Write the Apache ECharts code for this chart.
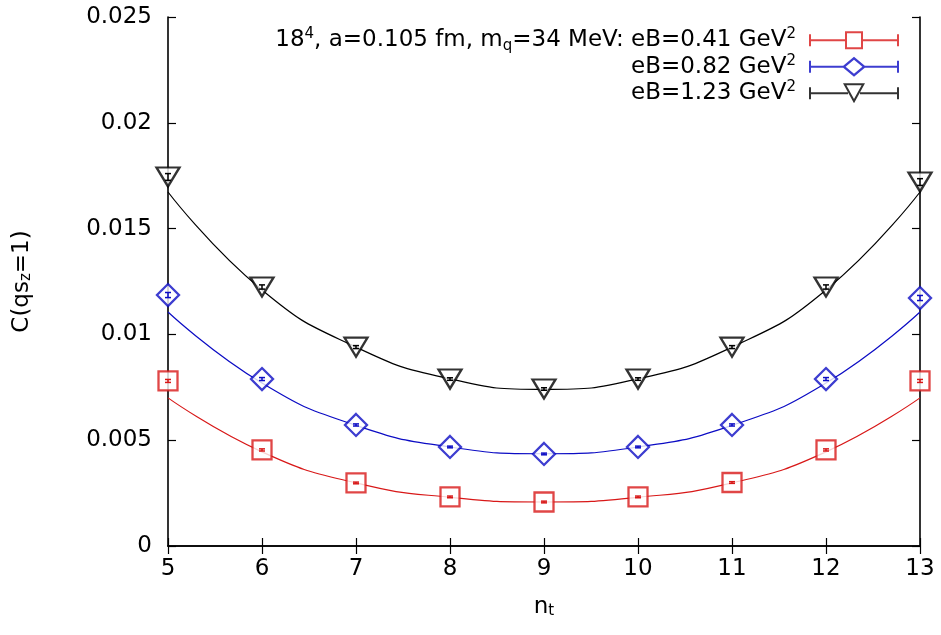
<!DOCTYPE html>
<html>
<head>
<meta charset="utf-8">
<script src="https://cdn.jsdelivr.net/npm/echarts@6/dist/echarts.min.js"></script>
<style>
  html, body { margin: 0; padding: 0; background: #fff; }
  #chart { width: 941px; height: 635px; }
</style>
</head>
<body>
<div id="chart"></div>
<script>
// n_t values and measured correlator values
const nt = [5, 6, 7, 8, 9, 10, 11, 12, 13];
const c041 = [0.0078, 0.00454, 0.00298, 0.00232, 0.00208, 0.00232, 0.00300, 0.00454, 0.0078];
const c082 = [0.01186, 0.00789, 0.00572, 0.00468, 0.00435, 0.00468, 0.00572, 0.00789, 0.01172];
const c123 = [0.01744, 0.01224, 0.0094, 0.00789, 0.00742, 0.00789, 0.0094, 0.01224, 0.0172];
// error bars
const e041 = [0.00007, 0.00005, 0.00004, 0.00004, 0.00004, 0.00004, 0.00004, 0.00005, 0.00007];
const e082 = [0.00012, 0.00007, 0.00005, 0.00004, 0.00004, 0.00004, 0.00005, 0.00007, 0.00012];
const e123 = [0.00016, 0.0001, 0.00007, 0.00006, 0.00006, 0.00006, 0.00007, 0.0001, 0.00016];
// fit curves
const fit041 = [0.0070, 0.00445, 0.00298, 0.00230, 0.00208, 0.00230, 0.00298, 0.00445, 0.0070];
const fit082 = [0.01106, 0.0077, 0.0057, 0.00468, 0.00436, 0.00468, 0.0057, 0.0077, 0.01106];
const fit123 = [0.01673, 0.0121, 0.0094, 0.0079, 0.0074, 0.0079, 0.0094, 0.0121, 0.01673];

const RED = '#d81818', BLUE = '#0c0cc4', BLACK = '#000000';
const FONT = '"DejaVu Sans", sans-serif';
const FS = 23, FS_SMALL = 15;

const names = ['eB041', 'eB082', 'eB123'];
const labels = {
  eB041: '18{sup|4}, a=0.105 fm, m{sub|q}=34 MeV: eB=0.41 GeV{sup|2}',
  eB082: 'eB=0.82 GeV{sup|2}',
  eB123: 'eB=1.23 GeV{sup|2}'
};

const zip = (xs, ys) => xs.map((x, i) => [x, ys[i]]);
const zipErr = (xs, ys, es) => xs.map((x, i) => [x, ys[i], es[i]]);

// legend icons: line with end caps and the hollow symbol
const capsLine = (a, b) =>
  'M0 4 L2 4 L2 16 L0 16 Z M88 4 L90 4 L90 16 L88 16 Z ' +
  `M0 9 L${a} 9 L${a} 11 L0 11 Z M${b} 9 L90 9 L90 11 L${b} 11 Z `;
const iconSquare = 'path://' + capsLine(36, 54) +
  'M36 1 L54 1 L54 19 L36 19 Z M38 3 L38 17 L52 17 L52 3 Z';
const iconDiamond = 'path://' + capsLine(34, 56) +
  'M45 0 L57 10 L45 20 L33 10 Z M45 3 L36.6 10 L45 17 L53.4 10 Z';
const iconTri = 'path://' + capsLine(39, 51) +
  'M34 0 L56 0 L45 20 Z M37.4 2 L45 15.8 L52.6 2 Z';

function errorBars(color) {
  return function (params, api) {
    const x = api.value(0), y = api.value(1), e = api.value(2);
    const lo = api.coord([x, y - e]);
    const hi = api.coord([x, y + e]);
    const st = { stroke: color, lineWidth: 1.5 };
    return {
      type: 'group',
      children: [
        { type: 'line', shape: { x1: lo[0], y1: lo[1], x2: hi[0], y2: hi[1] }, style: st },
        { type: 'line', shape: { x1: lo[0] - 3, y1: lo[1], x2: lo[0] + 3, y2: lo[1] }, style: st },
        { type: 'line', shape: { x1: hi[0] - 3, y1: hi[1], x2: hi[0] + 3, y2: hi[1] }, style: st }
      ]
    };
  };
}

function pointSeries(name, data, color, symbol, size, rotate) {
  return {
    name: name,
    type: 'scatter',
    data: zip(nt, data),
    symbol: symbol,
    symbolSize: size,
    symbolRotate: rotate || 0,
    clip: false,
    z: 4,
    itemStyle: { color: '#fff', borderColor: color, borderWidth: 2.3 }
  };
}

function fitSeries(data, color) {
  return {
    type: 'line',
    data: zip(nt, data),
    showSymbol: false,
    symbol: 'none',
    smooth: 0.5,
    lineStyle: { color: color, width: 1.2 },
    z: 2,
    silent: true
  };
}

function errSeries(data, errs, color) {
  return {
    type: 'custom',
    data: zipErr(nt, data, errs),
    renderItem: errorBars(color),
    clip: false,
    z: 5,
    silent: true
  };
}

const axisCommon = {
  axisLine: { lineStyle: { color: '#000', width: 1.6 } },
  axisTick: { inside: true, length: 8, lineStyle: { color: '#000', width: 1.2 } },
  splitLine: { show: false }
};

const subRich = { fontFamily: FONT, fontSize: FS_SMALL, color: '#000', verticalAlign: 'bottom', lineHeight: 14 };

const chart = echarts.init(document.getElementById('chart'));
chart.setOption({
  animation: false,
  backgroundColor: '#fff',
  textStyle: { fontFamily: FONT },
  grid: { left: 168, right: 21, top: 17, bottom: 89 },
  legend: {
    orient: 'vertical',
    right: 42,
    top: 27,
    padding: 0,
    align: 'right',
    itemWidth: 90,
    itemHeight: 20,
    itemGap: 0,
    selectedMode: false,
    data: [
      { name: names[0], icon: iconSquare, itemStyle: { color: RED, borderWidth: 0 } },
      { name: names[1], icon: iconDiamond, itemStyle: { color: BLUE, borderWidth: 0 } },
      { name: names[2], icon: iconTri, itemStyle: { color: BLACK, borderWidth: 0 } }
    ],
    formatter: function (n) { return labels[n]; },
    textStyle: {
      fontFamily: FONT, fontSize: FS, color: '#000', lineHeight: 26.5,
      padding: [0, 8, 0, 0],
      rich: {
        sup: { fontFamily: FONT, fontSize: FS_SMALL, color: '#000', verticalAlign: 'top', lineHeight: 12 },
        sub: { fontFamily: FONT, fontSize: FS_SMALL, color: '#000', verticalAlign: 'bottom', lineHeight: 12 }
      }
    }
  },
  xAxis: [
    Object.assign({
      type: 'value', min: 5, max: 13, interval: 1, position: 'bottom',
      name: 'n{sub|t}', nameLocation: 'middle', nameGap: 50,
      nameTextStyle: { fontFamily: FONT, fontSize: FS, color: '#000', rich: { sub: subRich } },
      axisLabel: { fontFamily: FONT, fontSize: FS, color: '#000', margin: 12 }
    }, axisCommon),
    Object.assign({
      type: 'value', min: 5, max: 13, interval: 1, position: 'top',
      axisLabel: { show: false }
    }, axisCommon)
  ],
  yAxis: [
    Object.assign({
      type: 'value', min: 0, max: 0.025, interval: 0.005, position: 'left',
      name: 'C(qs{sub|z}=1)', nameLocation: 'middle', nameGap: 134, nameRotate: 90,
      nameTextStyle: { fontFamily: FONT, fontSize: FS, color: '#000', rich: { sub: subRich } },
      axisLabel: { fontFamily: FONT, fontSize: FS, color: '#000', margin: 16 }
    }, axisCommon),
    Object.assign({
      type: 'value', min: 0, max: 0.025, interval: 0.005, position: 'right',
      axisLabel: { show: false }
    }, axisCommon)
  ],
  series: [
    fitSeries(fit041, RED),
    fitSeries(fit082, BLUE),
    fitSeries(fit123, BLACK),
    pointSeries(names[0], c041, RED, 'rect', 19),
    pointSeries(names[1], c082, BLUE, 'diamond', [22, 22]),
    pointSeries(names[2], c123, BLACK, 'triangle', [23, 19], 180),
    errSeries(c041, e041, RED),
    errSeries(c082, e082, BLUE),
    errSeries(c123, e123, BLACK)
  ]
});
</script>
</body>
</html>
